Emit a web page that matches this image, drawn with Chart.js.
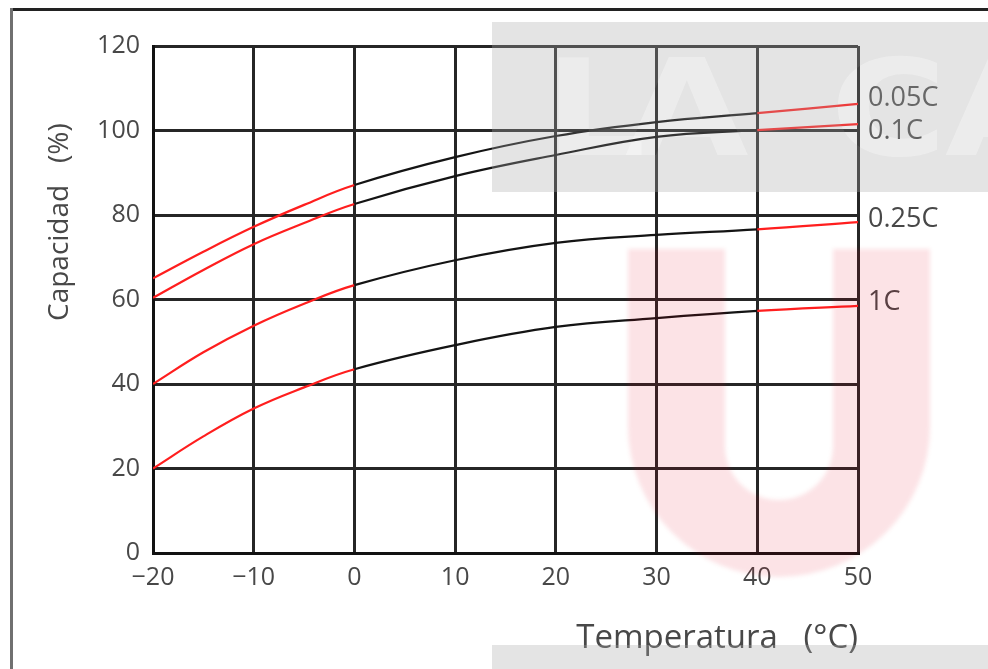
<!DOCTYPE html>
<html><head><meta charset="utf-8">
<script src="https://cdn.jsdelivr.net/npm/chart.js@4/dist/chart.umd.min.js"></script>
<style>html,body{margin:0;padding:0;background:#fff;overflow:hidden}
#wrap{position:relative;width:988px;height:669px}</style>
</head><body><div id="wrap"><canvas id="c" width="988" height="669"></canvas></div>
<script>
// ---- data ----
const temperatures = [-20, -15, -10, -5, 0, 10, 20, 30, 40, 50];
const rate005 = [65, 71.3, 77.2, 82.4, 87.1, 93.7, 98.7, 102, 104.1, 106.3];
const rate01  = [60.4, 67.0, 73.1, 78.1, 82.6, 89.2, 94.2, 98.5, 100.1, 101.5];
const rate025 = [40, 47.5, 53.8, 59.0, 63.4, 69.3, 73.4, 75.3, 76.6, 78.3];
const rate1   = [20, 27.6, 34.2, 39.2, 43.5, 49.2, 53.5, 55.6, 57.3, 58.5];
const seriesLabels = ['0.05C', '0.1C', '0.25C', '1C'];
const xTicks = [-20, -10, 0, 10, 20, 30, 40, 50];
const yTicks = [0, 20, 40, 60, 80, 100, 120];
const xTitle = 'Temperatura   (°C)';
const yTitle = 'Capacidad   (%)';

const RED = '#ff1e1e', BLACK = '#141414';
const TEXT = '#484848';
const FONT = '"Open Sans", "DejaVu Sans", sans-serif';

const allSeries = [rate005, rate01, rate025, rate1];
const datasets = allSeries.map((vals, i) => ({
  label: seriesLabels[i],
  data: temperatures.map((t, j) => ({x: t, y: vals[j]})),
  borderWidth: 2.2,
  borderColor: BLACK,
  pointRadius: 0,
  tension: 0.4,
  segment: {
    borderColor: ctx => (ctx.p0.parsed.x < 0 || ctx.p0.parsed.x >= 40) ? RED : BLACK
  }
}));

const framePlugin = {
  id: 'frame',
  beforeDraw(chart) {
    const c = chart.ctx;
    c.save();
    c.fillStyle = '#fff';
    c.fillRect(0, 0, chart.width, chart.height);
    c.restore();
  },
  afterDraw(chart) {
    const c = chart.ctx;
    c.save();
    c.strokeStyle = '#222'; c.lineWidth = 3;
    c.beginPath(); c.moveTo(10, 9.5); c.lineTo(988, 9.5); c.stroke();
    c.strokeStyle = '#707070';
    c.beginPath(); c.moveTo(11.5, 8); c.lineTo(11.5, 669); c.stroke();
    c.restore();
  }
};

const labelOffsets = [-6, 7, -3, -4];
const curveLabelPlugin = {
  id: 'curveLabels',
  afterDatasetsDraw(chart) {
    const c = chart.ctx, ys = chart.scales.y, area = chart.chartArea;
    c.save();
    c.font = '27px ' + FONT;
    c.fillStyle = TEXT;
    c.textAlign = 'left'; c.textBaseline = 'middle';
    allSeries.forEach((vals, i) => {
      const y = ys.getPixelForValue(vals[vals.length - 1]) + labelOffsets[i];
      c.fillText(seriesLabels[i], area.right + 10, y);
    });
    c.restore();
  }
};

const yTitlePlugin = {
  id: 'yTitle',
  afterDraw(chart) {
    const c = chart.ctx;
    c.save();
    c.font = '28px ' + FONT;
    c.fillStyle = TEXT;
    c.translate(68, 321);
    c.rotate(-Math.PI / 2);
    c.textAlign = 'left'; c.textBaseline = 'alphabetic';
    c.fillText(yTitle, 0, 0);
    c.restore();
  }
};

const watermarkPlugin = {
  id: 'watermark',
  afterDraw(chart) {
    const c = chart.ctx;
    const off = document.createElement('canvas');
    off.width = chart.width; off.height = chart.height;
    const o = off.getContext('2d');
    o.fillStyle = 'rgba(170,170,170,0.32)';
    o.fillRect(492, 22, 496, 170);
    o.globalCompositeOperation = 'destination-out';
    o.font = 'bold 133px "DejaVu Sans", sans-serif';
    o.textBaseline = 'alphabetic';
    [['L', 544], ['A', 625], ['C', 830], ['A', 945]].forEach(([ch, x]) => {
      o.save(); o.translate(x, 155); o.scale(1.2, 1); o.fillText(ch, 0, 0); o.restore();
    });
    o.globalCompositeOperation = 'source-over';
    o.fillStyle = 'rgba(170,170,170,0.32)';
    o.fillRect(492, 645, 496, 24);
    c.save();
    c.drawImage(off, 0, 0);
    // pink U
    c.filter = 'blur(2px)';
    c.fillStyle = 'rgba(230,0,30,0.11)';
    c.beginPath();
    c.moveTo(628, 249); c.lineTo(628, 426);
    c.arc(779, 426, 151, Math.PI, 0, true);
    c.lineTo(930, 249); c.closePath();
    c.moveTo(725, 249); c.lineTo(725, 446);
    c.arc(779, 446, 54, Math.PI, 0, true);
    c.lineTo(833, 249); c.closePath();
    c.fill('evenodd');
    c.restore();
  }
};

new Chart(document.getElementById('c'), {
  type: 'line',
  data: {datasets},
  options: {
    responsive: false,
    animation: false,
    events: [],
    layout: {padding: {left: 0, top: 46, right: 130, bottom: 0}},
    plugins: {legend: {display: false}, tooltip: {enabled: false}},
    scales: {
      x: {
        type: 'linear', min: -20, max: 50,
        afterBuildTicks: s => { s.ticks = xTicks.map(v => ({value: v})); },
        afterFit: s => { s.height = 116; },
        grid: {color: '#262626', lineWidth: 3, drawTicks: false},
        border: {color: '#111', width: 3},
        ticks: {
          font: {family: FONT, size: 25}, color: TEXT, padding: 10,
          maxRotation: 0, autoSkip: false,
          callback: v => v < 0 ? '\u2212' + Math.abs(v) : String(v)
        },
        title: {display: true, text: xTitle, align: 'end', color: TEXT,
          font: {family: FONT, size: 33}, padding: {top: 0, bottom: 11}}
      },
      y: {
        type: 'linear', min: 0, max: 120,
        afterBuildTicks: s => { s.ticks = yTicks.map(v => ({value: v})); },
        afterFit: s => { s.width = 153; },
        grid: {color: '#262626', lineWidth: 3, drawTicks: false},
        border: {color: '#111', width: 3},
        ticks: {font: {family: FONT, size: 25}, color: TEXT, padding: 13}
      }
    }
  },
  plugins: [framePlugin, curveLabelPlugin, yTitlePlugin, watermarkPlugin]
});
</script></body></html>
